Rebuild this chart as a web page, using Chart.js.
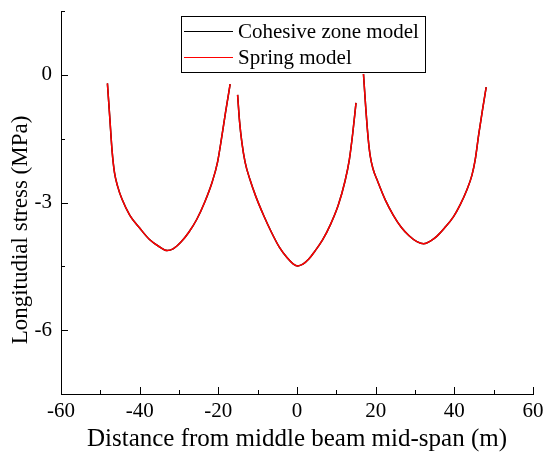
<!DOCTYPE html>
<html><head><meta charset="utf-8">
<script src="https://cdn.jsdelivr.net/npm/chart.js@4"></script>
<style>html,body{margin:0;padding:0;background:#fff}#wrap{width:546px;height:459px}</style>
</head><body><div id="wrap"><canvas id="c" width="546" height="459"></canvas></div>
<script>
// Distance from middle beam mid-span (m); null separates the three spans
const distance = [
  -48.2,-47.6,-47.0,-46.4,-45.6,-44.5,-42.5,-40.0,-37.5,-35.0,-33.0,-31.5,-29.5,-27.5,-25.5,-23.5,-21.5,-20.2,-19.2,-18.2,-17.0,
  null,
  -15.1,-14.6,-14.0,-13.2,-12.0,-10.5,-8.5,-6.5,-4.5,-2.5,-1.0,0.2,1.5,3.0,4.5,6.5,8.5,10.5,12.2,13.3,14.2,15.0,
  null,
  16.9,17.5,18.1,18.6,19.3,20.5,22.5,24.5,26.5,28.5,30.5,32.2,34.0,35.6,37.5,39.8,41.5,43.2,44.5,45.3,46.2,47.2,48.1
];
// Longitudinal stress (MPa), cohesive zone model
const cohesiveStress = [
  -0.20,-1.0,-1.8,-2.3,-2.62,-2.92,-3.3,-3.6,-3.87,-4.04,-4.13,-4.09,-3.93,-3.7,-3.4,-3.0,-2.5,-2.05,-1.5,-0.9,-0.22,
  null,
  -0.47,-1.1,-1.6,-2.05,-2.45,-2.85,-3.3,-3.7,-4.05,-4.3,-4.44,-4.49,-4.45,-4.33,-4.15,-3.88,-3.52,-3.06,-2.5,-2.0,-1.35,-0.66,
  null,
  0.02,-0.8,-1.5,-1.9,-2.2,-2.5,-2.95,-3.3,-3.58,-3.78,-3.92,-3.97,-3.9,-3.79,-3.6,-3.33,-3.05,-2.70,-2.35,-2.0,-1.4,-0.8,-0.29
];
// Longitudinal stress (MPa), spring model
const springStress = [
  -0.20,-1.0,-1.8,-2.3,-2.62,-2.92,-3.3,-3.6,-3.87,-4.04,-4.13,-4.09,-3.93,-3.7,-3.4,-3.0,-2.5,-2.05,-1.5,-0.9,-0.22,
  null,
  -0.47,-1.1,-1.6,-2.05,-2.45,-2.85,-3.3,-3.7,-4.05,-4.3,-4.44,-4.49,-4.45,-4.33,-4.15,-3.88,-3.52,-3.06,-2.5,-2.0,-1.35,-0.66,
  null,
  0.02,-0.8,-1.5,-1.9,-2.2,-2.5,-2.95,-3.3,-3.58,-3.78,-3.92,-3.97,-3.9,-3.79,-3.6,-3.33,-3.05,-2.70,-2.35,-2.0,-1.4,-0.8,-0.29
];
const seriesNames = ['Cohesive zone model', 'Spring model'];
const xTicks = [-60,-40,-20,0,20,40,60];
const xMinorTicks = [-50,-30,-10,10,30,50];
const yTicks = [-6,-3,0];
const yMinorTicks = [1.5,-1.5,-4.5];
const xTitle = 'Distance from middle beam mid-span (m)';
const yTitle = 'Longitudial stress (MPa)';

const FONT = '"Liberation Serif", "Times New Roman", serif';
const toPts = (xs, ys) => xs.map((x, i) => (x === null || ys[i] === null) ? {x: null, y: null} : {x: x, y: ys[i]});

const decor = {
  id: 'decor',
  afterDraw(chart) {
    const ctx = chart.ctx, xs = chart.scales.x, ys = chart.scales.y;
    const L = xs.left, R = xs.right, T = ys.top, B = ys.bottom;
    ctx.save();
    ctx.strokeStyle = '#000'; ctx.lineWidth = 1;
    ctx.beginPath();
    ctx.moveTo(L + 0.5, T); ctx.lineTo(L + 0.5, B + 0.5); ctx.lineTo(R, B + 0.5);
    yTicks.forEach(v => { const p = Math.round(ys.getPixelForValue(v)) + 0.5; ctx.moveTo(L, p); ctx.lineTo(L + 7, p); });
    yMinorTicks.forEach(v => { const p = Math.round(ys.getPixelForValue(v)) + 0.5; ctx.moveTo(L, p); ctx.lineTo(L + 4, p); });
    xTicks.forEach(v => { const p = Math.round(xs.getPixelForValue(v)) + 0.5; ctx.moveTo(p, B + 1); ctx.lineTo(p, B - 7); });
    xMinorTicks.forEach(v => { const p = Math.round(xs.getPixelForValue(v)) + 0.5; ctx.moveTo(p, B + 1); ctx.lineTo(p, B - 4); });
    ctx.stroke();
    // axis titles
    ctx.fillStyle = '#000';
    ctx.textAlign = 'center'; ctx.textBaseline = 'middle';
    ctx.font = '25px ' + FONT;
    ctx.fillText(xTitle, (L + R) / 2, 439);
    ctx.save();
    ctx.font = '23px ' + FONT;
    ctx.translate(21, 230); ctx.rotate(-Math.PI / 2);
    ctx.fillText(yTitle, 0, 0);
    ctx.restore();
    // legend
    const bx = 181.5, by = 16.5, bw = 244, bh = 56;
    ctx.fillStyle = '#fff'; ctx.fillRect(bx, by, bw, bh);
    ctx.strokeStyle = '#000'; ctx.lineWidth = 1; ctx.strokeRect(bx, by, bw, bh);
    ctx.font = '21px ' + FONT; ctx.textAlign = 'left'; ctx.textBaseline = 'middle';
    chart.data.datasets.forEach((ds, i) => {
      const yy = 31 + i * 26;
      ctx.strokeStyle = ds.borderColor; ctx.lineWidth = 1;
      ctx.beginPath(); ctx.moveTo(184, yy + 0.5); ctx.lineTo(233, yy + 0.5); ctx.stroke();
      ctx.fillStyle = '#000';
      ctx.fillText(ds.label, 238, yy + 1);
    });
    ctx.restore();
  }
};

new Chart(document.getElementById('c'), {
  type: 'line',
  data: {
    datasets: [
      {label: seriesNames[0], data: toPts(distance, cohesiveStress), borderColor: '#000000', borderWidth: 1.5, pointRadius: 0, spanGaps: false, cubicInterpolationMode: 'monotone', order: 1},
      {label: seriesNames[1], data: toPts(distance, springStress), borderColor: '#ff0000', borderWidth: 1.5, pointRadius: 0, spanGaps: false, cubicInterpolationMode: 'monotone', order: 0}
    ]
  },
  options: {
    responsive: false, animation: false,
    layout: {padding: {top: 11, right: 13, left: 0, bottom: 0}},
    plugins: {legend: {display: false}, tooltip: {enabled: false}},
    scales: {
      x: {
        type: 'linear', min: -60, max: 60,
        afterBuildTicks: s => { s.ticks = xTicks.map(v => ({value: v})); },
        afterFit: s => { s.height = 65; s.paddingLeft = 0; s.paddingRight = 0; },
        grid: {display: false, drawTicks: false}, border: {display: false},
        ticks: {color: '#000', font: {family: FONT, size: 21}, padding: 5, maxRotation: 0}
      },
      y: {
        type: 'linear', min: -7.5, max: 1.5,
        afterBuildTicks: s => { s.ticks = yTicks.map(v => ({value: v})); },
        afterFit: s => { s.width = 61; s.paddingTop = 0; s.paddingBottom = 0; },
        grid: {display: false, drawTicks: false}, border: {display: false},
        ticks: {color: '#000', font: {family: FONT, size: 21}, padding: 9}
      }
    }
  },
  plugins: [decor]
});
</script>
</body></html>
